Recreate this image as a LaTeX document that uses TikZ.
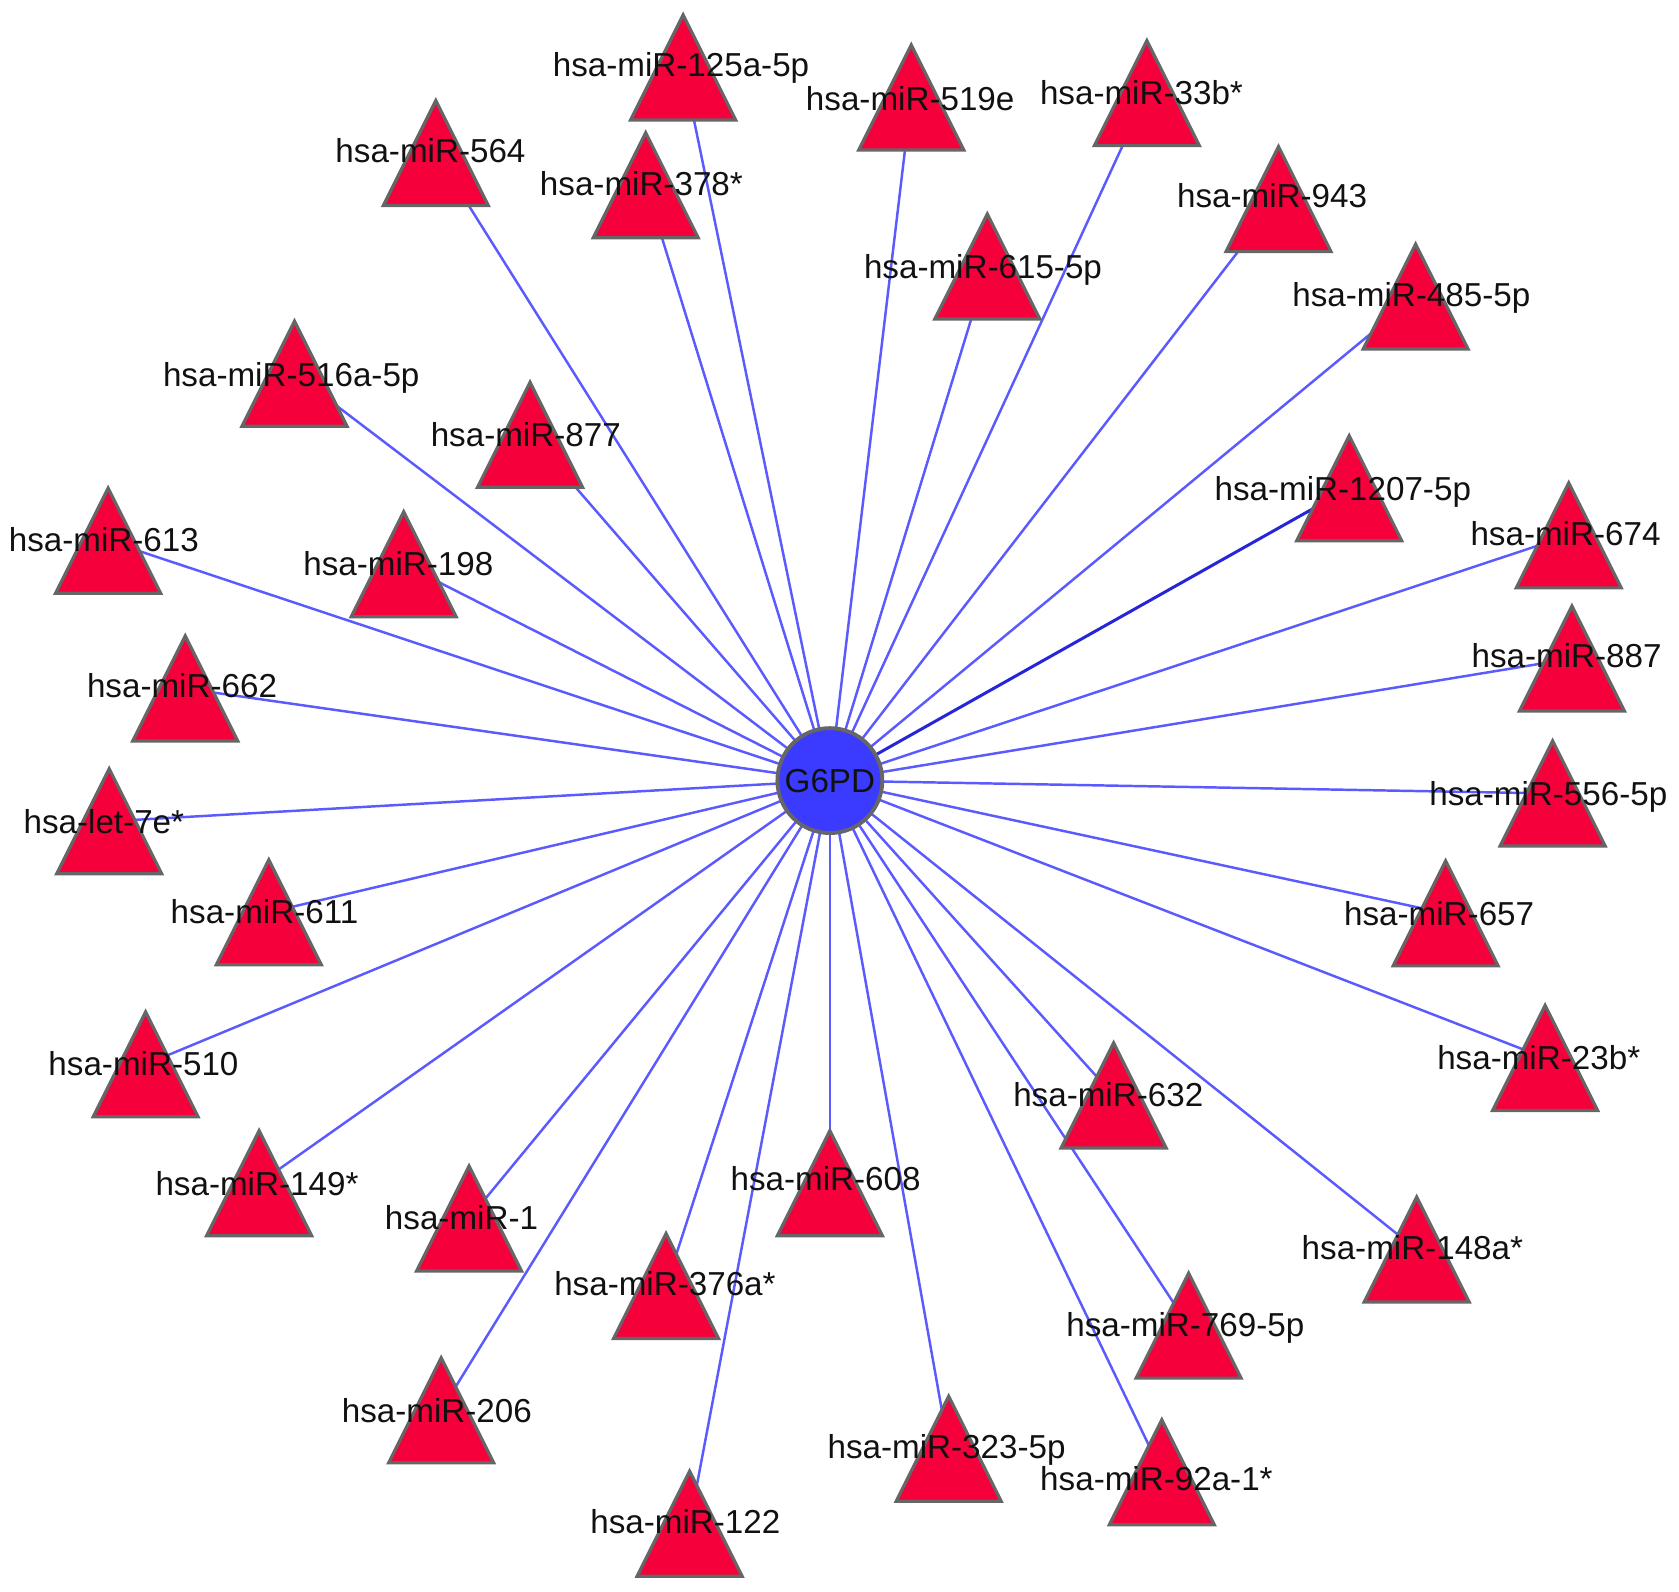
\documentclass[tikz,border=0pt]{standalone}
\usepackage{fontspec}
\setmainfont{Liberation Sans}
\definecolor{trired}{HTML}{F5003A}
\definecolor{trigray}{HTML}{666666}
\definecolor{nodeblue}{HTML}{3B3BFF}
\definecolor{edgeblue}{HTML}{5A5AFF}
\definecolor{edgedark}{HTML}{2626D8}
\definecolor{labtext}{HTML}{111111}
\tikzset{
  edge/.style={draw=edgeblue, line width=1.15pt},
  darkedge/.style={draw=edgedark, line width=1.4pt},
  trishape/.style={fill=trired, draw=trigray, line width=1.5pt, line join=miter},
  lab/.style={font=\fontsize{15.5}{18}\selectfont, text=labtext, inner sep=0pt, anchor=base},
  hub/.style={circle, fill=nodeblue, draw=trigray, line width=1.8pt, minimum size=49pt, inner sep=0pt,
    font=\fontsize{15.5}{18}\selectfont, text=labtext},
  pics/tri/.style={code={\path[trishape] (0,-49) -- (49,49) -- (-49,49) -- cycle;}}
}
\begin{document}
\begin{tikzpicture}[x=0.5pt, y=-0.5pt]
\useasboundingbox (0,0) rectangle (1568,1486);
\coordinate (g) at (775,729);
\def\mirlist{
 1/638/63/636/60/hsa-miR-125a-5p,
 2/851/91/850/92/hsa-miR-519e,
 3/1071/87/1066/87/hsa-miR-33b*,
 4/407/143/402/141/hsa-miR-564,
 5/603/173/599/172/hsa-miR-378*,
 6/1194/186/1188/183/hsa-miR-943,
 7/922/249/918/249/hsa-miR-615-5p,
 8/1322/277/1318/275/hsa-miR-485-5p,
 9/275/349/272/350/hsa-miR-516a-5p,
 10/495/406/491/406/hsa-miR-877,
 11/1260/456/1254/456/hsa-miR-1207-5p,
 12/1465/500/1462/498/hsa-miR-674,
 13/101/505/97/504/hsa-miR-613,
 14/377/527/372/526/hsa-miR-198,
 15/1468/615/1463/612/hsa-miR-887,
 16/173/643/170/640/hsa-miR-662,
 18/102/767/97/767/hsa-let-7e*,
 19/1450/741/1446/741/hsa-miR-556-5p,
 20/251/852/247/851/hsa-miR-611,
 21/1350/853/1344/853/hsa-miR-657,
 22/136/994/134/993/hsa-miR-510,
 23/1443/988/1437/988/hsa-miR-23b*,
 24/1040/1023/1035/1022/hsa-miR-632,
 25/242/1105/240/1105/hsa-miR-149*,
 26/775/1105/771/1101/hsa-miR-608,
 27/438/1138/431/1137/hsa-miR-1,
 28/1323/1167/1319/1165/hsa-miR-148a*,
 29/622/1201/621/1199/hsa-miR-376a*,
 30/1110/1238/1107/1237/hsa-miR-769-5p,
 31/412/1317/408/1317/hsa-miR-206,
 32/886/1353/884/1351/hsa-miR-323-5p,
 33/1085/1375/1080/1381/hsa-miR-92a-1*,
 34/644/1423/640/1421/hsa-miR-122}
% coordinates of the triangle centres
\foreach \i/\x/\y/\lx/\ly/\t in \mirlist {
  \coordinate (m\i) at (\x,\y);
}
% edges
\foreach \i/\x/\y/\lx/\ly/\t in \mirlist {
  \ifnum\i=11\relax
    \draw[darkedge] (g) -- (m\i);
  \else
    \draw[edge] (g) -- (m\i);
  \fi
}
% triangles
\foreach \i/\x/\y/\lx/\ly/\t in \mirlist {
  \pic at (m\i) {tri};
}
% hub
\node[hub] (hub) at (g) {G6PD};
% labels (baseline placed about half a cap height below the visual centre)
\foreach \i/\x/\y/\lx/\ly/\t in \mirlist {
  \node[lab] (l\i) at (\lx,\ly+11) {\t};
}
\end{tikzpicture}
\end{document}
